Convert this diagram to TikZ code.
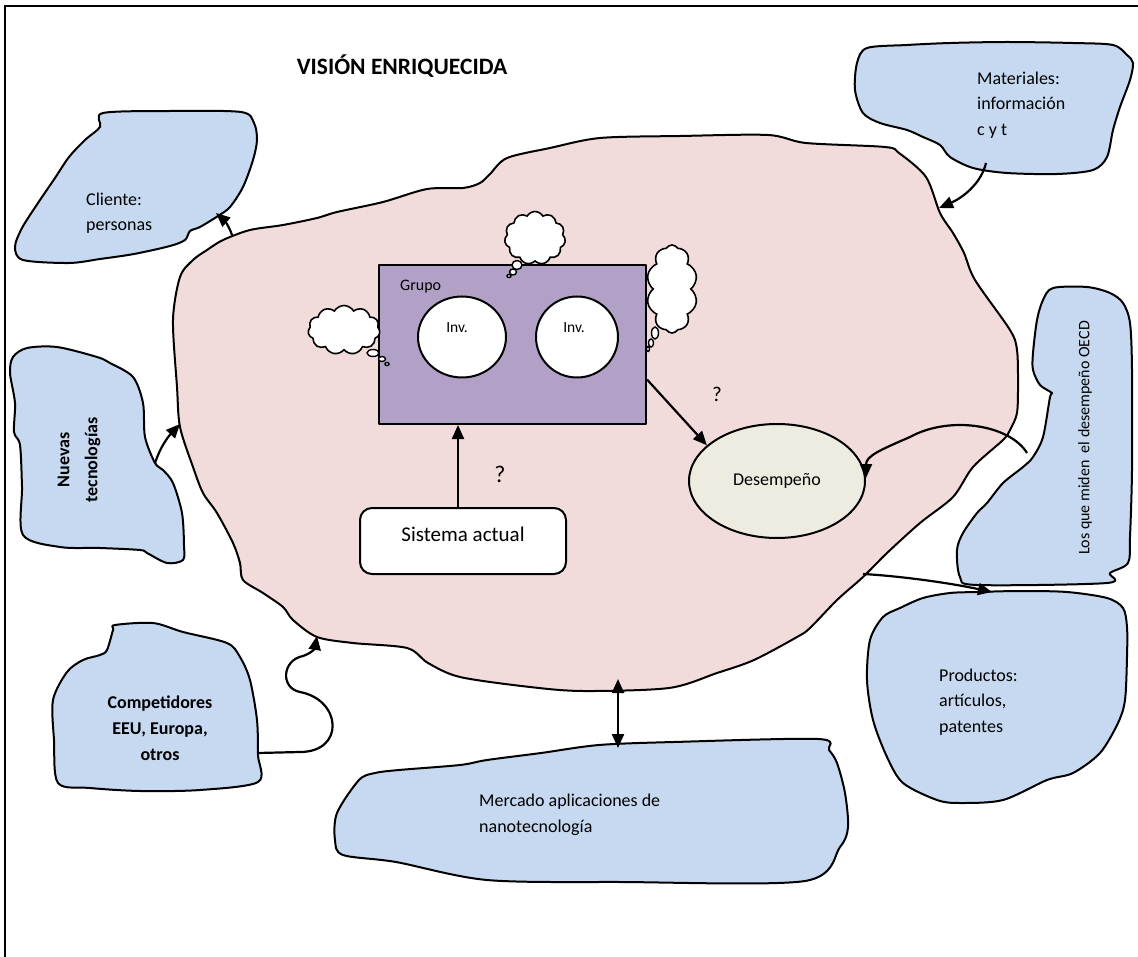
\documentclass[tikz,border=0pt]{standalone}
\usepackage{fontspec}
\setmainfont{Carlito}
\usetikzlibrary{arrows.meta,shapes.geometric,shapes.symbols}
\definecolor{blobblue}{HTML}{C6D9F0}
\definecolor{blobpink}{HTML}{F2DCDB}
\definecolor{grouppurple}{HTML}{B2A1C7}
\definecolor{perfbeige}{HTML}{EEECE1}
\tikzset{
  outline/.style={draw=black, line width=2pt, line join=round},
  envblob/.style={outline, fill=blobblue},
  systemblob/.style={outline, fill=blobpink},
  arr/.style={line width=2.2pt, -{Triangle[length=14pt,width=12pt]}},
  dblarr/.style={line width=2.2pt, {Triangle[length=14pt,width=12pt]}-{Triangle[length=14pt,width=12pt]}},
  thought/.style={cloud, cloud puffs=11, cloud puff arc=120, cloud ignores aspect,
                  draw=black, line width=1.6pt, fill=white, inner sep=0pt},
  bubble/.style={draw=black, line width=1.4pt, fill=white},
  txt/.style={inner sep=0pt, font=\fontsize{18}{25.5}\selectfont, align=left},
  txtb/.style={inner sep=0pt, font=\bfseries\fontsize{18}{26}\selectfont, align=center},
}
\begin{document}
\begin{tikzpicture}[x=1pt,y=-1pt]
\useasboundingbox (0,0) rectangle (1138,957);

% page frame
\draw[line width=1.5pt] (5,960) -- (5,6) -- (1145,6);

% title
\node[inner sep=0pt, font=\bfseries\fontsize{23.5}{28}\selectfont] (title) at (402,66) {VISIÓN ENRIQUECIDA};

% central system
\draw[systemblob] plot[smooth cycle, tension=0.5] coordinates {
 (180,277) (193,260) (207,250) (223,240) (250,230) (283,225) (317,218) (337,212)
 (383,202) (427,189) (463,188) (480,183) (490,174) (507,158) (550,148) (600,138)
 (680,136) (768,135) (806,143) (885,147) (899,153) (926,177) (940,213) (953,233)
 (964,253) (975,280) (1010,330) (1017,350) (1018,383) (1017,413) (1010,430)
 (1003,440) (973,467) (953,497) (920,523) (887,553) (863,577) (837,600) (810,628)
 (797,637) (754,660) (717,673) (669,688) (583,691) (530,687) (460,677) (428,663)
 (407,648) (353,643) (317,637) (293,620) (283,607) (263,593) (243,580) (240,563)
 (233,543) (217,513) (203,493) (193,467) (180,427) (177,387) (173,320)};

% Cliente
\draw[envblob] plot[smooth cycle, tension=0.5] coordinates {
 (103,113) (170,111) (241,112) (254,123) (257,140) (253,160) (243,187) (230,207)
 (218,216) (200,227) (190,231) (185,240) (170,246) (134,254) (100,259) (69,263)
 (23,260) (15,247) (22,228) (38,203) (55,178) (69,157) (85,140) (100,127)};
\node[txt, anchor=west] (cliente) at (86,213) {Cliente:\\personas};

% Materiales
\draw[envblob] plot[smooth cycle, tension=0.5] coordinates {
 (867,48) (907,45) (950,43) (1007,42) (1073,43) (1113,45) (1127,55) (1133,63)
 (1130,80) (1120,107) (1113,130) (1107,157) (1093,170) (1057,174) (1007,173)
 (973,168) (950,157) (940,145) (923,137) (907,130) (880,123) (863,113) (855,90)
 (857,63)};
\node[txt, anchor=west] (materiales) at (977,105) {Materiales:\\información\\c y t};

% Nuevas tecnologias
\draw[envblob] plot[smooth cycle, tension=0.5] coordinates {
 (27,348) (57,347) (97,357) (110,363) (133,377) (143,403) (145,437) (155,463)
 (163,470) (173,483) (182,513) (184,545) (183,560) (167,563) (147,553) (140,550)
 (100,548) (60,547) (23,535) (22,487) (20,445) (14,432) (15,403) (10,373) (13,357)};
\node[txtb, rotate=90, font=\bfseries\fontsize{18}{28}\selectfont] (nuevas) at (79,460) {Nuevas\\tecnologías};

% Competidores
\draw[envblob] plot[smooth cycle, tension=0.5] coordinates {
 (115,625) (153,623) (183,632) (227,643) (240,657) (250,680) (257,720) (258,755)
 (258,782) (200,790) (140,791) (90,788) (58,783) (54,740) (53,700) (67,672)
 (83,660) (100,655) (107,650) (113,630)};
\node[txtb] (competidores) at (160,728) {Competidores\\EEU, Europa,\\otros};

% Mercado
\draw[envblob] plot[smooth cycle, tension=0.5] coordinates {
 (337,813) (359,780) (375,773) (399,770) (460,765) (487,760) (541,753) (599,745)
 (674,742) (818,739) (829,750) (837,763) (845,793) (848,827) (840,847) (805,881)
 (621,882) (487,880) (396,862) (343,855) (335,840)};
\node[txt, anchor=west] (mercado) at (479,815) {Mercado aplicaciones de\\nanotecnología};

% Productos
\draw[envblob] plot[smooth cycle, tension=0.5] coordinates {
 (977,592) (1020,591) (1067,592) (1107,598) (1123,608) (1127,627) (1127,657)
 (1125,700) (1118,723) (1100,753) (1073,773) (1047,780) (1003,800) (960,803)
 (937,800) (903,783) (887,757) (873,720) (867,680) (870,640) (883,617) (900,608)
 (923,598) (950,593)};
\node[txt, anchor=west] (productos) at (939,702) {Productos:\\artículos,\\patentes};

% Los que miden
\draw[envblob] plot[smooth cycle, tension=0.5] coordinates {
 (1053,288) (1087,287) (1110,293) (1123,303) (1130,323) (1132,370) (1132,470)
 (1130,537) (1128,563) (1110,573) (1107,583) (977,585) (960,577) (957,550)
 (963,533) (977,513) (987,503) (1003,483) (1023,467) (1033,457) (1043,437)
 (1050,397) (1052,393) (1040,385) (1033,370) (1033,353) (1037,320) (1043,300)};
\node[inner sep=0pt, rotate=90, font=\fontsize{16}{20}\selectfont] (oecd) at (1085,438) {Los que miden\ \ el desempeño OECD};

% research group
\node[outline, fill=grouppurple, minimum width=267pt, minimum height=159pt, inner sep=0pt] (grupo) at (512.5,344.5) {};
\node[inner sep=0pt, font=\fontsize{16}{20}\selectfont, anchor=west] (grupolbl) at (400,287) {Grupo};
\node[ellipse, outline, fill=white, minimum width=88pt, minimum height=81pt, inner sep=0pt] (inv1) at (462,337) {};
\node[ellipse, outline, fill=white, minimum width=82pt, minimum height=81pt, inner sep=0pt] (inv2) at (577,337) {};
\node[inner sep=0pt, font=\fontsize{15.5}{18}\selectfont] (inv1lbl) at (457,328) {Inv.};
\node[inner sep=0pt, font=\fontsize{15.5}{18}\selectfont] (inv2lbl) at (574,328) {Inv.};

% thought clouds
\node[thought, minimum width=72pt, minimum height=49pt] (cloudL) at (344,330) {};
\draw[bubble] (373,353) ellipse [x radius=6, y radius=3.5];
\draw[bubble] (382,359) ellipse [x radius=3.5, y radius=2.5];
\draw[bubble] (387,364) ellipse [x radius=2, y radius=1.5];
\node[thought, minimum width=61pt, minimum height=53pt] (cloudT) at (535,238) {};
\draw[bubble] (517,265) ellipse [x radius=5, y radius=4.5];
\draw[bubble] (513,272) ellipse [x radius=3.5, y radius=3];
\draw[bubble] (509,276) ellipse [x radius=2, y radius=1.5];
\node[thought, cloud puffs=10, minimum width=51pt, minimum height=88pt] (cloudR) at (672,289) {};
\draw[bubble] (655,333) ellipse [x radius=3.5, y radius=6];
\draw[bubble] (651,343) ellipse [x radius=2.5, y radius=4];
\draw[bubble] (648,349) ellipse [x radius=1.5, y radius=2.5];

% performance and current system
\node[ellipse, outline, fill=perfbeige, minimum width=176pt, minimum height=114pt, inner sep=0pt,
      font=\fontsize{18}{22}\selectfont] (desempeno) at (777,481) {Desempeño};
\node[outline, fill=white, rounded corners=12pt, minimum width=206pt, minimum height=66pt, inner sep=0pt,
      text height=12pt, text depth=12pt, font=\fontsize{21}{25}\selectfont] (sistema) at (463,541) {Sistema actual};

\node[inner sep=0pt, font=\fontsize{24}{28}\selectfont] (q1) at (500,474) {?};
\node[inner sep=0pt, font=\fontsize{21}{24}\selectfont] (q2) at (717,394) {?};

% connectors inside the system
\draw[arr] ([xshift=-5pt]sistema.north) -- ([xshift=-5pt]sistema.north |- grupo.south);
\draw[arr] ([yshift=-35pt]grupo.east) -- (desempeno.153);

% connectors to the environment
\coordinate (cliA) at (232,235);
\coordinate (cliB) at (216,213);
\draw[arr] (cliA) .. controls (229,226) and (224,220) .. (cliB);

\coordinate (matA) at (986,163);
\coordinate (matB) at (939,208);
\draw[arr] (matA) .. controls (981,184) and (962,198) .. (matB);

\coordinate (nueA) at (155,463);
\coordinate (nueB) at (180,424);
\draw[arr] (nueA) .. controls (160,448) and (167,438) .. (nueB);

\coordinate (compA) at (258,753);
\coordinate (compB) at (317,636);
\draw[arr] (compA) -- (300,752) .. controls (345,752) and (342,700) .. (300,692)
  .. controls (280,688) and (282,660) .. (303,656) .. controls (312,653) and (315,648) .. (compB);

\coordinate (prodA) at (863,574);
\coordinate (prodB) at (992,592);
\draw[arr] (prodA) .. controls (900,576) and (950,583) .. (prodB);

\coordinate (oecdA) at (1027,453);
\draw[arr] (oecdA) .. controls (1010,425) and (950,415) .. (910,437)
  .. controls (880,450) and (866,456) .. ([yshift=3pt]desempeno.east);

\coordinate (mktA) at (618,679);
\coordinate (mktB) at (618,748);
\draw[dblarr] (mktA) -- (mktB);

\end{tikzpicture}
\end{document}
